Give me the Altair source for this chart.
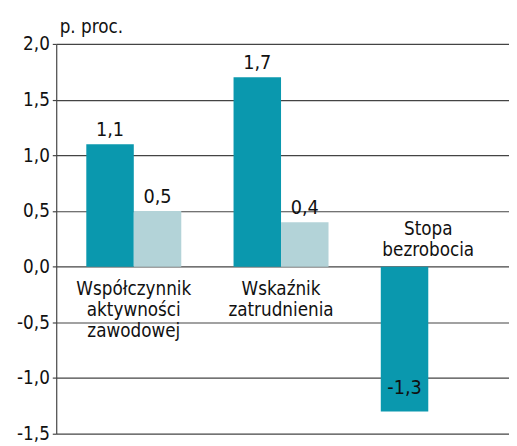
import altair as alt
import pandas as pd

categories = ["Współczynnik aktywności zawodowej", "Wskaźnik zatrudnienia", "Stopa bezrobocia"]
cat_lines = [["Współczynnik", "aktywności", "zawodowej"], ["Wskaźnik", "zatrudnienia"], ["Stopa", "bezrobocia"]]
series = ["a", "b"]
values_a = [1.1, 1.7, -1.3]
values_b = [0.5, 0.4, None]
y_ticks = [-1.5, -1.0, -0.5, 0.0, 0.5, 1.0, 1.5, 2.0]
unit = "p. proc."

FONT = "Liberation Sans Narrow, DejaVu Sans Condensed, sans-serif"
DARK = "#0a98ae"
LIGHT = "#b3d3d8"
GRID = "#444444"

rows = []
for i, c in enumerate(categories):
    for s, vals in zip(series, [values_a, values_b]):
        v = vals[i]
        if v is not None:
            rows.append({"cat": c, "s": s, "v": v,
                         "lab": f"{v:.1f}".replace(".", ",")})
df = pd.DataFrame(rows)

lab_rows = []
for i, c in enumerate(categories):
    lab_rows.append({"cat": c, "lines": cat_lines[i], "y": 0.0, "above": values_a[i] < 0})
ldf = pd.DataFrame(lab_rows)

xscale = alt.Scale(domain=categories, paddingInner=0.355, paddingOuter=0.215, align=0.475)
xenc = alt.X("cat:N", scale=xscale, axis=None, sort=categories)
yscale = alt.Scale(domain=[-1.5, 2.0], nice=False, zero=False)
yenc = alt.Y("v:Q", scale=yscale,
             axis=alt.Axis(values=y_ticks, grid=True, gridColor=GRID, gridWidth=1.2, gridOpacity=1,
                           domainColor=GRID, domainWidth=1.2, tickColor=GRID, tickSize=4, tickWidth=1.2,
                           labelExpr="replace(replace(format(datum.value, '.1f'), '.', ','), '\u2212', '-')",
                           labelFont=FONT, labelFontSize=19, labelColor="#111111", labelPadding=3,
                           title=unit, titleAngle=0, titleAlign="left", titleBaseline="alphabetic",
                           titleX=3, titleY=-12, titleFont=FONT, titleFontSize=19,
                           titleFontWeight="normal", titleColor="#111111"))
xoff = alt.XOffset("s:N", scale=alt.Scale(domain=series, paddingInner=0, paddingOuter=0))

bars = alt.Chart(df).mark_bar().encode(
    x=xenc, xOffset=xoff, y=yenc, y2=alt.datum(0),
    color=alt.Color("s:N", scale=alt.Scale(domain=series, range=[DARK, LIGHT]), legend=None),
)

pos_labels = alt.Chart(df).transform_filter("datum.v >= 0").mark_text(
    font=FONT, fontSize=20, color="#111111", baseline="bottom", dy=-4
).encode(x=xenc, xOffset=xoff, y=alt.Y("v:Q", scale=yscale), text="lab:N")

neg_labels = alt.Chart(df).transform_filter("datum.v < 0").mark_text(
    font=FONT, fontSize=20, color="#111111", baseline="bottom", dy=-14
).encode(x=xenc, xOffset=xoff, y=alt.Y("v:Q", scale=yscale), text="lab:N")

cat_below = alt.Chart(ldf).transform_filter("!datum.above").mark_text(
    font=FONT, fontSize=19, color="#111111", baseline="top", dy=14, lineHeight=21
).encode(x=xenc, y=alt.Y("y:Q", scale=yscale), text="lines")

cat_above = alt.Chart(ldf).transform_filter("datum.above").mark_text(
    font=FONT, fontSize=19, color="#111111", baseline="alphabetic", dy=-32, lineHeight=21
).encode(x=xenc, y=alt.Y("y:Q", scale=yscale), text="lines")

chart = alt.layer(bars, pos_labels, neg_labels, cat_below, cat_above).properties(
    width=460, height=396,
    autosize=alt.AutoSizeParams(type="none"),
    padding={"left": 49, "top": 33, "right": 0, "bottom": 12},
).configure_view(stroke=None).configure_axis(grid=True)

chart.save("out.html", embed_options={"renderer": "svg", "actions": False})
